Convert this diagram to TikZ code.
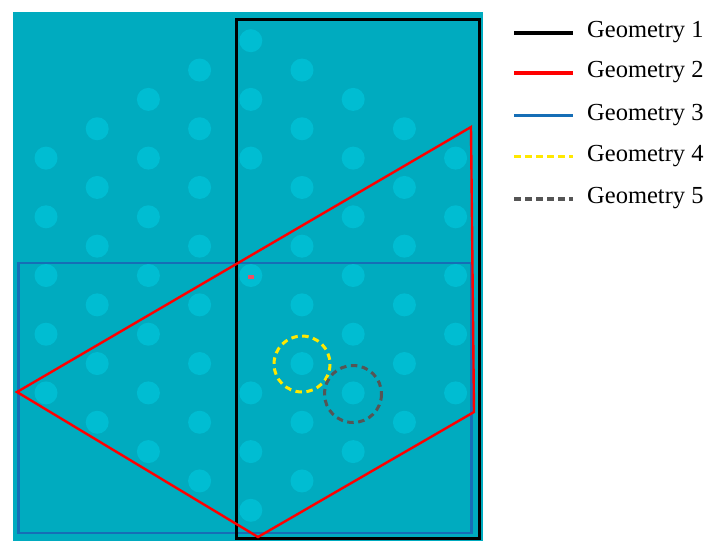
\documentclass[tikz,border=0pt]{standalone}
\usepackage{fontspec}
\setmainfont{Liberation Serif}
\definecolor{bgteal}{RGB}{0,171,191}
\definecolor{dotc}{RGB}{0,189,210}
\definecolor{geoblue}{RGB}{22,110,182}
\definecolor{geored}{RGB}{255,0,0}
\definecolor{geoyellow}{RGB}{255,232,0}
\definecolor{geogray}{RGB}{85,85,85}
\definecolor{markred}{RGB}{236,80,100}
\tikzset{
  dotstyle/.style={fill=dotc, draw=none},
  geoone/.style={draw=black, line width=3pt},
  geotwo/.style={draw=geored, line width=2.4pt, line join=miter},
  geothree/.style={draw=geoblue, line width=2.8pt},
  geofour/.style={draw=geoyellow, line width=3pt, dash pattern=on 6.5pt off 4.5pt},
  geofive/.style={draw=geogray, line width=3pt, dash pattern=on 6.5pt off 4.5pt},
  legline/.style={line width=3.4pt},
  legtext/.style={anchor=base west, inner sep=0pt, font=\fontsize{24.5}{28}\selectfont},
}
\begin{document}
\begin{tikzpicture}[x=1pt,y=-1pt]
\useasboundingbox (0,0) rectangle (707,542);
% background
\fill[bgteal] (12.5,12) rectangle (483,541);
% dots (hex lattice)
\foreach \k/\r in {4/0, 3/1,5/1, 2/2,4/2,6/2, 1/3,3/3,5/3,7/3, 0/4,2/4,4/4,6/4,8/4,
  1/5,3/5,5/5,7/5, 0/6,2/6,6/6,8/6, 1/7,3/7,5/7,7/7, 0/8,2/8,4/8,6/8,8/8,
  1/9,3/9,5/9,7/9, 0/10,2/10,6/10,8/10, 1/11,3/11,5/11,7/11, 0/12,2/12,4/12,6/12,8/12,
  1/13,3/13,5/13,7/13, 2/14,4/14,6/14, 3/15,5/15, 4/16}
  \fill[dotstyle] ({46+51.2*\k},{40.7+29.35*\r}) circle (11.5);
% geometry 3 (blue)
\coordinate (b1) at (18.5,263);
\coordinate (b2) at (471.5,533);
\draw[geothree] (b1) rectangle (b2);
% geometry 1 (black)
\coordinate (k1) at (236,19);
\coordinate (k2) at (479,538);
\draw[geoone] (k1) rectangle (k2);
% geometry 2 (red)
\coordinate (r1) at (17,392);
\coordinate (r2) at (471,127);
\coordinate (r3) at (474,412);
\coordinate (r4) at (258,537);
\draw[geotwo] (r1) -- (r2) -- (r3) -- (r4) -- cycle;
\fill[markred] (247.8,275.2) rectangle (254,278.6);
% geometry 4 & 5 (circles)
\coordinate (c4) at (302,364);
\coordinate (c5) at (353,394);
\draw[geofour] (c4) circle (28);
\draw[geofive] (c5) circle (28.5);
% legend
\foreach \i/\sty/\yy in {1/geoone/33, 2/geotwo/73, 3/geothree/115.5, 4/geofour/156.5, 5/geofive/199} {
  \coordinate (la\i) at (514,\yy);
  \coordinate (lb\i) at (573,\yy);
  \draw[\sty, legline] (la\i) -- (lb\i);
  \node[legtext] (lt\i) at (587,\yy+4.5) {Geometry \i};
}
\end{tikzpicture}
\end{document}
